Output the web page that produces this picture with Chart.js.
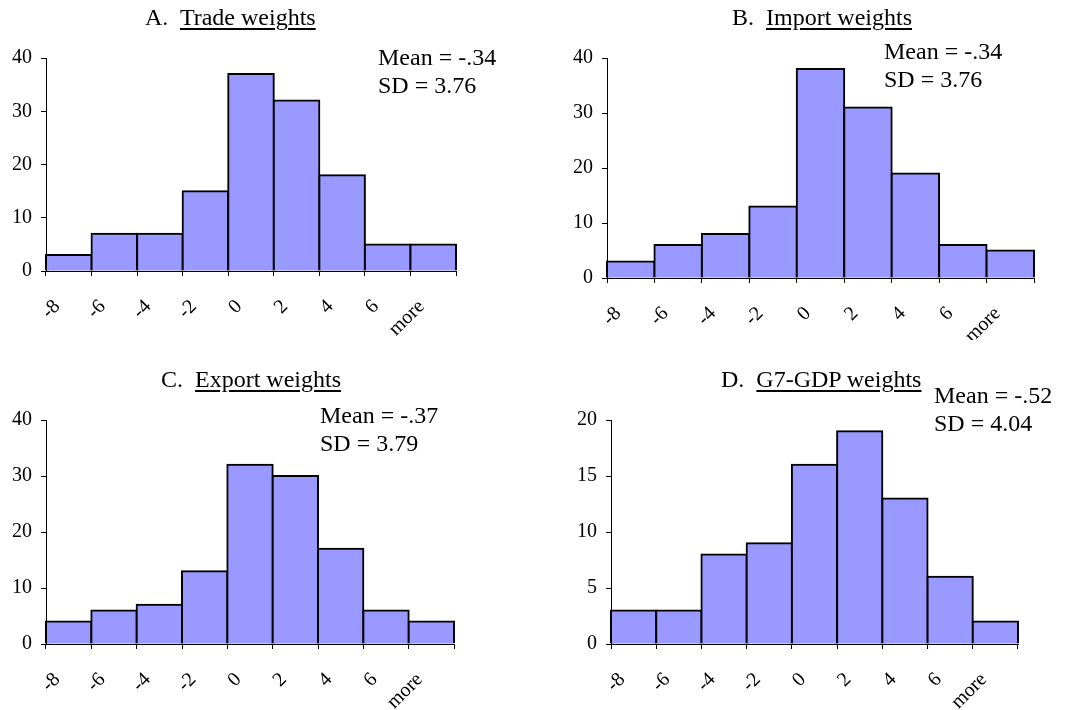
<!DOCTYPE html>
<html>
<head>
<meta charset="utf-8">
<title>Histograms</title>
<script src="https://cdn.jsdelivr.net/npm/chart.js"></script>
<style>
  body { margin: 0; background: #fff; }
  #wrap {
    position: relative;
    width: 1071px;
    height: 710px;
    font-family: "Liberation Serif", "Times New Roman", serif;
    color: #000;
  }
  canvas { position: absolute; }
  .ttl, .stats { position: absolute; font-size: 24px; white-space: nowrap; }
  .ttl { line-height: 24px; }
  .ttl u { text-decoration-thickness: 2px; text-underline-offset: 3px; }
  .stats { line-height: 28px; }
</style>
</head>
<body>
<div id="wrap">
  <canvas id="chartA"></canvas>
  <canvas id="chartB"></canvas>
  <canvas id="chartC"></canvas>
  <canvas id="chartD"></canvas>

  <div class="ttl" style="left:145px; top:5px;">A.&nbsp; <u>Trade weights</u></div>
  <div class="ttl" style="left:732px; top:5px;">B.&nbsp; <u>Import weights</u></div>
  <div class="ttl" style="left:161px; top:367px;">C.&nbsp; <u>Export weights</u></div>
  <div class="ttl" style="left:721px; top:367px;">D.&nbsp; <u>G7-GDP weights</u></div>

  <div class="stats" style="left:378px; top:43px;">Mean = -.34<br>SD = 3.76</div>
  <div class="stats" style="left:884px; top:37px;">Mean = -.34<br>SD = 3.76</div>
  <div class="stats" style="left:320px; top:401px;">Mean = -.37<br>SD = 3.79</div>
  <div class="stats" style="left:934px; top:381px;">Mean = -.52<br>SD = 4.04</div>
</div>

<script>
// Histogram bins (label sits at the left edge of each bin)
const binLabels = ["-8", "-6", "-4", "-2", "0", "2", "4", "6", "more"];

// Counts per bin, one array per weighting scheme
const tradeCounts  = [3, 7, 7, 15, 37, 32, 18, 5, 5];
const importCounts = [3, 6, 8, 13, 38, 31, 19, 6, 5];
const exportCounts = [4, 6, 7, 13, 32, 30, 17, 6, 4];
const gdpCounts    = [3, 3, 8, 9, 16, 19, 13, 6, 2];

// Y axis tick values
const ticks40 = [0, 10, 20, 30, 40];
const ticks20 = [0, 5, 10, 15, 20];

const tickFont = { family: "'Liberation Serif', 'Times New Roman', serif", size: 20 };

// canvas box: [x, y, w, h]; plot area: [left, top, right, bottom] in page pixels
const panels = [
  { id: "chartA", counts: tradeCounts,  yTicks: ticks40, box: [0, 0, 535, 340],     plot: [46, 58, 456, 271] },
  { id: "chartB", counts: importCounts, yTicks: ticks40, box: [535, 0, 536, 340],   plot: [607, 58, 1034, 278] },
  { id: "chartC", counts: exportCounts, yTicks: ticks40, box: [0, 340, 535, 370],   plot: [46, 420, 454, 644] },
  { id: "chartD", counts: gdpCounts,    yTicks: ticks20, box: [535, 340, 536, 370], plot: [611, 420, 1018, 644] }
];

function makeChart(p) {
  const [cx, cy, cw, ch] = p.box;
  const [left, top, right, bottom] = p.plot;
  const canvas = document.getElementById(p.id);
  canvas.width = cw;
  canvas.height = ch;
  canvas.style.left = cx + "px";
  canvas.style.top = cy + "px";
  canvas.style.width = cw + "px";
  canvas.style.height = ch + "px";

  const binWidth = (right - left) / binLabels.length;
  const yTicks = p.yTicks;

  return new Chart(canvas, {
    type: "bar",
    data: {
      labels: binLabels,
      datasets: [{
        data: p.counts,
        backgroundColor: "#9999ff",
        borderColor: "#000",
        borderWidth: 2,
        borderSkipped: "start",
        inflateAmount: 1,
        barPercentage: 1,
        categoryPercentage: 1,
        clip: false
      }]
    },
    options: {
      responsive: false,
      animation: false,
      layout: { padding: { left: 0, top: top - cy, right: cx + cw - right, bottom: 0 } },
      plugins: {
        legend: { display: false },
        tooltip: { enabled: false }
      },
      scales: {
        x: {
          offset: true,
          grid: { offset: true, drawOnChartArea: false, tickLength: 5, color: "#000" },
          border: { color: "#000", width: 1 },
          ticks: {
            font: tickFont,
            color: "#000",
            minRotation: 45,
            maxRotation: 45,
            autoSkip: false,
            padding: 19,
            labelOffset: -binWidth / 2 + 11
          },
          afterFit: s => { s.height = cy + ch - bottom; }
        },
        y: {
          min: yTicks[0],
          max: yTicks[yTicks.length - 1],
          afterBuildTicks: s => { s.ticks = yTicks.map(v => ({ value: v })); },
          grid: { drawOnChartArea: false, tickLength: 5, color: "#000" },
          border: { color: "#000", width: 1 },
          ticks: { font: tickFont, color: "#000", padding: 9 },
          afterFit: s => { s.width = left - cx; }
        }
      }
    }
  });
}

panels.forEach(makeChart);
</script>
</body>
</html>
